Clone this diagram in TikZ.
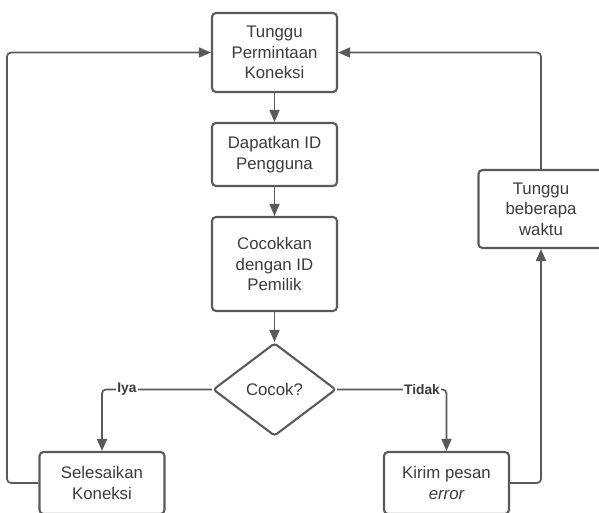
\documentclass[tikz,border=0pt]{standalone}
\usepackage{fontspec}
\setmainfont{Liberation Sans}
\usetikzlibrary{shapes.geometric,arrows.meta}
\definecolor{ink}{HTML}{3C3C3C}
\definecolor{edge}{HTML}{5A5A5A}
\tikzset{
  stepbox/.style={draw=edge, line width=2.1pt, rounded corners=4pt, fill=white,
    minimum width=125pt, align=center, text=ink, font=\fontsize{16.8}{20.5}\selectfont, inner sep=0pt},
  decision/.style={draw=edge, line width=2.1pt, rounded corners=3pt, diamond, fill=white,
    minimum width=123pt, minimum height=93pt, inner sep=0pt, text=ink, font=\fontsize{16.8}{20.5}\selectfont},
  flow/.style={draw=edge, line width=1.7pt, rounded corners=4pt,
    -{Triangle[length=12pt,width=10pt]}},
  lbl/.style={fill=white, inner sep=1pt, text=ink, font=\fontsize{13.8}{15}\selectfont\bfseries},
}
\begin{document}
\begin{tikzpicture}[x=1pt, y=-1pt]
\useasboundingbox (0,0) rectangle (599,512);

% main column
\node[stepbox, minimum height=79pt] (wait) at (274.5,52.5) {Tunggu\\Permintaan\\Koneksi};
\node[stepbox, minimum height=63pt] (getid) at (274.5,154.5) {Dapatkan ID\\Pengguna};
\node[stepbox, minimum height=94pt] (match) at (274.5,264) {Cocokkan\\dengan ID\\Pemilik};
\node[decision] (check) at (274.5,389.5) {Cocok?};

% outcome boxes
\node[stepbox, minimum height=62pt] (done) at (102,483) {Selesaikan\\Koneksi};
\node[stepbox, minimum height=62pt] (errmsg) at (446.5,483) {Kirim pesan\\\itshape error};
\node[stepbox, minimum height=78pt] (pause) at (541,209) {Tunggu\\beberapa\\waktu};

% connectors
\draw[flow] (wait) -- (getid);
\draw[flow] (getid) -- (match);
\draw[flow] (match) -- (check);
\draw[flow] (check.west) -| (done.north);
\draw[flow] (check.east) -| (errmsg.north);
\draw[flow] (done.west) -- (7,483) -- (7,52.5) -- (wait.west);
\draw[flow] (errmsg.east) -| (pause.south);
\draw[flow] (pause.north) |- (wait.east);

% branch labels
\node[lbl] (yes) at (127,389.5) {Iya};
\node[lbl] (no) at (422,389.5) {Tidak};
\end{tikzpicture}
\end{document}
